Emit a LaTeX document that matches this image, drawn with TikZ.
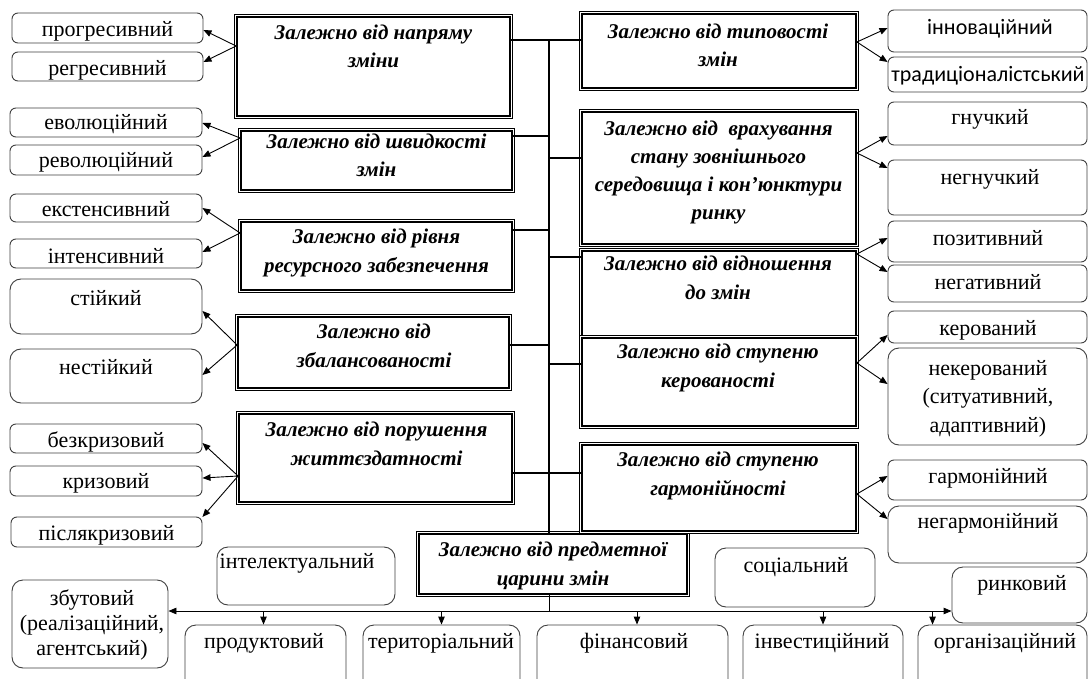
\documentclass[tikz,border=0pt]{standalone}
\usepackage{fontspec}
\setmainfont{Liberation Serif}
\newfontfamily\carl{Carlito}
\usetikzlibrary{arrows.meta,fit,calc}
\tikzset{
 sbox/.style={draw=black!75, line width=0.9pt, rounded corners=6pt, fill=white, inner sep=0pt},
 tbox/.style={sbox, rounded corners=11pt},
 bbox/.style={fill=white, inner sep=0pt, draw=black, line width=1.8pt,
   preaction={draw=black, line width=6pt}, preaction={draw=white, line width=4pt}},
 stxt/.style={font=\fontsize{22}{28.5}\selectfont, align=center, inner sep=0pt, anchor=base},
 ctxt/.style={stxt, font=\fontsize{22}{28}\selectfont\carl},
 btxt/.style={font=\fontsize{21}{28.5}\selectfont\bfseries\itshape, align=center, inner sep=0pt, anchor=base},
 trunk/.style={line width=1.5pt},
 thinln/.style={line width=0.9pt},
 arr/.style={line width=0.9pt, -{Triangle[length=8pt,width=6.5pt]}},
}
\begin{document}
\begin{tikzpicture}[x=1pt,y=-1pt]
\useasboundingbox (0,0) rectangle (1089,679);
\clip (0,0) rectangle (1089,679);
\fill[white] (0,0) rectangle (1089,679);

% ---------- left big boxes (text nodes anchored at the baseline of their last line) ----------
\node[bbox, fit={(237,17)(510,116)}] (B1) {};
\node[btxt] (B1t) at (373.5,68) {Залежно від напряму\\зміни};
\node[bbox, fit={(241,131)(512,190)}] (B2) {};
\node[btxt] (B2t) at (376.5,177) {Залежно від швидкості\\змін};
\node[bbox, fit={(241,222)(512,290)}] (B3) {};
\node[btxt] (B3t) at (376.5,272) {Залежно від рівня\\ресурсного забезпечення};
\node[bbox, fit={(238,317)(509,388)}] (B4) {};
\node[btxt] (B4t) at (374,367) {Залежно від\\збалансованості};
\node[bbox, fit={(239,414)(512,502)}] (B5) {};
\node[btxt] (B5t) at (376.5,465) {Залежно від порушення\\життєздатності};
\node[bbox, fit={(419,534)(687,594)}] (B6) {};
\node[btxt] (B6t) at (553,585) {Залежно від предметної\\царини змін};

% ---------- right big boxes ----------
\node[bbox, fit={(582,14)(856,88)}] (R1) {};
\node[btxt] (R1t) at (718,67) {Залежно від типовості\\змін};
\node[bbox, fit={(582,112)(856,244)}] (R2) {};
\node[btxt, font=\fontsize{21}{28}\selectfont\bfseries\itshape] (R2t) at (718.5,219) {Залежно від\ \ врахування\\стану зовнішнього\\середовища і кон'юнктури\\ринку};
\node[bbox, fit={(582,251)(856,336)}] (R3) {};
\node[btxt] (R3t) at (718,299) {Залежно від відношення\\до змін};
\node[bbox, fit={(582,338)(856,426)}] (R4) {};
\node[btxt] (R4t) at (718,387) {Залежно від ступеню\\керованості};
\node[bbox, fit={(582,445)(856,531)}] (R5) {};
\node[btxt] (R5t) at (718,495) {Залежно від ступеню\\гармонійності};

% ---------- left small boxes ----------
\node[sbox, fit={(12,13)(203,43)}] (prog) {};
\node[stxt] at (107.5,37) {прогресивний};
\node[sbox, fit={(12,52)(203,81)}] (regr) {};
\node[stxt] at (107.5,76) {регресивний};
\node[sbox, fit={(10,108)(202,137)}] (evol) {};
\node[stxt] at (106,130) {еволюційний};
\node[sbox, fit={(10,145)(202,175)}] (revol) {};
\node[stxt] at (106,168) {революційний};
\node[sbox, fit={(10,194)(202,222)}] (ekst) {};
\node[stxt] at (106,216) {екстенсивний};
\node[sbox, fit={(10,239)(202,268)}] (inten) {};
\node[stxt] at (106,263) {інтенсивний};
\node[tbox, fit={(10,279)(202,334)}] (stiik) {};
\node[stxt] at (106,305) {стійкий};
\node[tbox, fit={(10,349)(202,403)}] (nestiik) {};
\node[stxt] at (106,374) {нестійкий};
\node[sbox, fit={(10,424)(202,453)}] (bezkr) {};
\node[stxt] at (106,447) {безкризовий};
\node[sbox, fit={(10,466)(202,496)}] (kryz) {};
\node[stxt] at (106,488) {кризовий};
\node[sbox, fit={(11,517)(202,547)}] (pisl) {};
\node[stxt] at (106.5,540) {післякризовий};

% ---------- right small boxes ----------
\node[sbox, fit={(888,10)(1087,52)}] (innov) {};
\node[ctxt] at (990,35) {інноваційний};
\node[sbox, fit={(888,57)(1087,92)}] (trad) {};
\node[ctxt] at (988,82) {традиціоналістський};
\node[sbox, fit={(888,102)(1087,145)}] (hnuch) {};
\node[stxt] at (990,125) {гнучкий};
\node[sbox, fit={(888,160)(1087,215)}] (nehnuch) {};
\node[stxt] at (990,185) {негнучкий};
\node[sbox, fit={(888,221)(1087,262)}] (pozyt) {};
\node[stxt] at (988,245) {позитивний};
\node[sbox, fit={(888,265)(1087,302)}] (nehat) {};
\node[stxt] at (988,289) {негативний};
\node[sbox, fit={(888,311)(1087,343)}] (kerov) {};
\node[stxt] at (988,335) {керований};
\node[tbox, fit={(888,348)(1087,445)}] (nekerov) {};
\node[stxt] at (988,432) {некерований\\(ситуативний,\\адаптивний)};
\node[sbox, fit={(888,460)(1087,500)}] (harm) {};
\node[stxt] at (988,483) {гармонійний};
\node[tbox, fit={(888,506)(1087,563)}] (neharm) {};
\node[stxt] at (988,528) {негармонійний};

% ---------- bottom boxes ----------
\node[tbox, fit={(12,580)(168,668)}] (zbut) {};
\node[stxt, font=\fontsize{22}{25}\selectfont] at (92,655) {збутовий\\(реалізаційний,\\агентський)};
\node[tbox, fit={(217,547)(395,605)}] (intel) {};
\node[stxt] at (297,568) {інтелектуальний};
\node[tbox, fit={(715,548)(875,607)}] (soc) {};
\node[stxt] at (796,572) {соціальний};
\node[tbox, fit={(952,567)(1087,623)}] (rynk) {};
\node[stxt] at (1022,590) {ринковий};
\node[tbox, fit={(185,625)(346,690)}] (prod) {};
\node[stxt] at (264,648) {продуктовий};
\node[tbox, fit={(363,625)(520,690)}] (teryt) {};
\node[stxt] at (441,648) {територіальний};
\node[tbox, fit={(537,625)(728,690)}] (fin) {};
\node[stxt] at (634,648) {фінансовий};
\node[tbox, fit={(743,625)(903,690)}] (inv) {};
\node[stxt] at (822,648) {інвестиційний};
\node[tbox, fit={(918,625)(1087,690)}] (org) {};
\node[stxt] at (1005,648) {організаційний};

% ---------- trunk and branches ----------
\coordinate (T) at (549,40);
\draw[trunk] (T) -- (T |- B6.north);
\draw[trunk] (B1.east |- T) -- (R1.west |- T);
\draw[trunk] (B2.east |- 0,136) -- (T |- 0,136);
\draw[trunk] (T |- 0,158) -- (R2.west |- 0,158);
\draw[trunk] (B3.east |- 0,230) -- (T |- 0,230);
\draw[trunk] (T |- 0,257) -- (R3.west |- 0,257);
\draw[trunk] (B4.east |- 0,345) -- (T |- 0,345);
\draw[trunk] (T |- 0,364) -- (R4.west |- 0,364);
\draw[trunk] (B5.east |- 0,473) -- (R5.west |- 0,473);

% ---------- left arrows ----------
\draw[arr] (B1.west |- 0,46) -- (prog.east |- 0,30);
\draw[arr] (B1.west |- 0,46) -- (regr.east |- 0,62);
\draw[arr] (B2.west |- 0,138) -- (evol.east |- 0,123);
\draw[arr] (B2.west |- 0,138) -- (revol.east |- 0,157);
\draw[arr] (B3.west |- 0,233) -- (ekst.east |- 0,208);
\draw[arr] (B3.west |- 0,233) -- (inten.east |- 0,252);
\draw[arr] (B4.west |- 0,345) -- (stiik.east |- 0,311);
\draw[arr] (B4.west |- 0,345) -- (nestiik.east |- 0,375);
\draw[arr] (B5.west |- 0,476) -- (bezkr.east |- 0,443);
\draw[arr] (B5.west |- 0,476) -- (kryz.east |- 0,478);
\draw[arr] (B5.west |- 0,476) -- (pisl.east |- 0,517);

% ---------- right arrows ----------
\draw[arr] (R1.east |- 0,42) -- (innov.west |- 0,28);
\draw[arr] (R1.east |- 0,42) -- (trad.west |- 0,62);
\draw[arr] (R2.east |- 0,153) -- (hnuch.west |- 0,136);
\draw[arr] (R2.east |- 0,153) -- (nehnuch.west |- 0,168);
\draw[arr] (R3.east |- 0,254) -- (pozyt.west |- 0,238);
\draw[arr] (R3.east |- 0,254) -- (nehat.west |- 0,272);
\draw[arr] (R4.east |- 0,363) -- (kerov.west |- 0,335);
\draw[arr] (R4.east |- 0,363) -- (nekerov.west |- 0,384);
\draw[arr] (R5.east |- 0,494) -- (harm.west |- 0,476);
\draw[arr] (R5.east |- 0,494) -- (neharm.west |- 0,519);

% ---------- bottom distribution ----------
\coordinate (J) at (549,611);
\draw[thinln] (T |- B6.south) -- (J);
\draw[arr] (J) -- (zbut.east |- J);
\draw[arr] (J) -- (rynk.west |- J);
\draw[arr] ([xshift=-2pt]prod.north |- J) -- ([xshift=-2pt]prod.north);
\draw[arr] (teryt.north |- J) -- (teryt.north);
\draw[arr] ([xshift=4.5pt]fin.north |- J) -- ([xshift=4.5pt]fin.north);
\draw[arr] (inv.north |- J) -- (inv.north);
\draw[arr] ([xshift=15pt]org.north west |- J) -- ([xshift=15pt]org.north west);
\end{tikzpicture}
\end{document}
